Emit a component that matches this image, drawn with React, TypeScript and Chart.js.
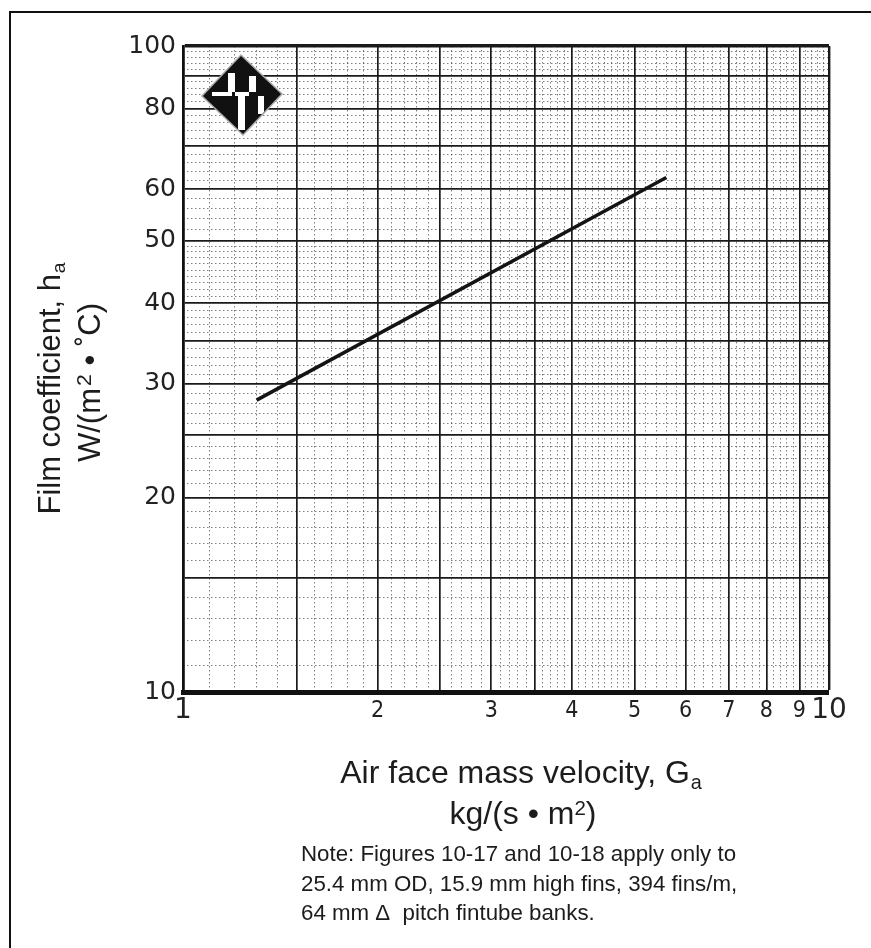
import React, { useEffect, useRef } from 'react';
import { Chart, registerables } from 'chart.js';

Chart.register(...registerables);

// Air face mass velocity Ga, kg/(s·m²)  vs  film coefficient ha, W/(m²·°C)
const gaValues = [1.3, 5.6];
const haValues = [28.3, 62.6];

const xTickLabels = [1, 2, 3, 4, 5, 6, 7, 8, 9, 10];
const xMajorGrid = [1, 1.5, 2, 2.5, 3, 3.5, 4, 5, 6, 7, 8, 9, 10];
const xMinorGrid = [
  1.1, 1.2, 1.3, 1.4, 1.6, 1.7, 1.8, 1.9,
  2.1, 2.2, 2.3, 2.4, 2.6, 2.7, 2.8, 2.9,
  3.1, 3.2, 3.3, 3.4, 3.6, 3.7, 3.8, 3.9,
  4.1, 4.2, 4.3, 4.4, 4.5, 4.6, 4.7, 4.8, 4.9,
  5.2, 5.4, 5.6, 5.8, 6.2, 6.4, 6.6, 6.8,
  7.2, 7.4, 7.6, 7.8, 8.2, 8.4, 8.6, 8.8,
  9.2, 9.4, 9.6, 9.8,
];

const yTickLabels = [10, 20, 30, 40, 50, 60, 80, 100];
const yMajorGrid = [10, 15, 20, 25, 30, 35, 40, 50, 60, 70, 80, 90, 100];
const yMinorGrid = [
  11, 12, 13, 14, 16, 17, 18, 19,
  21, 22, 23, 24, 26, 27, 28, 29,
  31, 32, 33, 34, 36, 37, 38, 39,
  41, 42, 43, 44, 45, 46, 47, 48, 49,
  52, 54, 56, 58, 62, 64, 66, 68,
  72, 74, 76, 78, 82, 84, 86, 88,
  92, 94, 96, 98,
];

const INK = '#1a1a1a';

const logoPlugin = {
  id: 'logo',
  afterDraw(chart: any) {
    const { ctx, chartArea: a } = chart;
    const cx = a.left + 59;
    const cy = a.top + 49;
    const r = 39;
    ctx.save();
    const diamond = () => {
      ctx.beginPath();
      ctx.moveTo(cx - 1, cy - r);
      ctx.lineTo(cx + r, cy - 1);
      ctx.lineTo(cx + 1, cy + r);
      ctx.lineTo(cx - r, cy + 1);
      ctx.closePath();
    };
    diamond();
    ctx.strokeStyle = '#aaa';
    ctx.lineWidth = 3;
    ctx.stroke();
    ctx.fillStyle = '#111';
    ctx.fill();
    diamond();
    ctx.clip();
    ctx.fillStyle = '#fff';
    // white strokes of the emblem
    ctx.fillRect(cx - 14, cy - 22, 7, 19);
    ctx.fillRect(cx + 7, cy - 19, 7, 16);
    ctx.fillRect(cx - 30, cy - 3, 20, 4);
    ctx.fillRect(cx - 7, cy - 3, 14, 4);
    ctx.fillRect(cx - 4, cy + 1, 7, 34);
    ctx.fillRect(cx + 16, cy + 1, 6, 18);
    ctx.restore();
  },
};

const xTickFont = (c: any) => {
  const v = c.tick ? c.tick.value : 0;
  if (v === 1 || v === 10) {
    return { family: '"DejaVu Sans", sans-serif', size: 28, lineHeight: '26px' };
  }
  return { family: '"Liberation Sans Narrow", "DejaVu Sans Condensed", sans-serif', size: 23, lineHeight: '26px' };
};

export default function App() {
  const ref = useRef<HTMLCanvasElement | null>(null);

  useEffect(() => {
    if (!ref.current) return;
    const chart = new Chart(ref.current, {
      type: 'scatter',
      data: {
        datasets: [
          {
            label: 'ha',
            data: gaValues.map((x, i) => ({ x, y: haValues[i] })),
            showLine: true,
            borderColor: '#141414',
            borderWidth: 3.5,
            pointRadius: 0,
            fill: false,
            xAxisID: 'x',
            yAxisID: 'y',
          },
        ],
      },
      plugins: [logoPlugin],
      options: {
        responsive: false,
        animation: false,
        events: [],
        layout: { padding: { left: 0, right: 42, top: 46, bottom: 196 } },
        plugins: {
          legend: { display: false },
          tooltip: { enabled: false },
        },
        scales: {
          xMinor: {
            type: 'logarithmic',
            position: 'bottom',
            min: 1,
            max: 10,
            z: -1,
            afterBuildTicks: (s: any) => {
              s.ticks = xMinorGrid.map((v) => ({ value: v }));
            },
            afterFit: (s: any) => {
              s.height = 0;
            },
            ticks: { display: false },
            grid: { drawTicks: false, color: 'rgba(0,0,0,0.5)', lineWidth: 1 },
            border: { display: false, dash: [1.5, 2.5] },
          },
          yMinor: {
            type: 'logarithmic',
            position: 'left',
            min: 10,
            max: 100,
            z: -1,
            afterBuildTicks: (s: any) => {
              s.ticks = yMinorGrid.map((v) => ({ value: v }));
            },
            afterFit: (s: any) => {
              s.width = 0;
            },
            ticks: { display: false },
            grid: { drawTicks: false, color: 'rgba(0,0,0,0.5)', lineWidth: 1 },
            border: { display: false, dash: [1.5, 2.5] },
          },
          x: {
            type: 'logarithmic',
            position: 'bottom',
            min: 1,
            max: 10,
            afterBuildTicks: (s: any) => {
              s.ticks = xMajorGrid.map((v) => ({ value: v }));
            },
            afterFit: (s: any) => {
              s.height = 60;
            },
            ticks: {
              autoSkip: false,
              maxRotation: 0,
              padding: 6,
              color: '#222',
              font: xTickFont as any,
              callback: (v: any) => (xTickLabels.includes(Number(v)) ? String(v) : ''),
            },
            grid: {
              drawTicks: false,
              color: INK,
              lineWidth: (c: any) => {
                const v = c.tick ? c.tick.value : 0;
                if (v === 1) return 0;
                if (v === 10) return 2.4;
                return 1.7;
              },
            },
            border: { display: true, color: '#111', width: 5 },
            title: { display: false },
          },
          y: {
            type: 'logarithmic',
            position: 'left',
            min: 10,
            max: 100,
            afterBuildTicks: (s: any) => {
              s.ticks = yMajorGrid.map((v) => ({ value: v }));
            },
            afterFit: (s: any) => {
              s.width = 183;
            },
            ticks: {
              autoSkip: false,
              padding: 7,
              color: '#222',
              font: { family: '"DejaVu Sans", sans-serif', size: 25 },
              callback: (v: any) => (yTickLabels.includes(Number(v)) ? String(v) : ''),
            },
            grid: {
              drawTicks: false,
              color: INK,
              lineWidth: (c: any) => {
                const v = c.tick ? c.tick.value : 0;
                if (v === 10) return 0;
                if (v === 100) return 3.4;
                return 1.7;
              },
            },
            border: { display: true, color: '#111', width: 2.8 },
            title: { display: false },
          },
        },
      } as any,
    });
    return () => chart.destroy();
  }, []);

  const sans = '"Liberation Sans", Arial, Helvetica, sans-serif';
  const line = (extra: any) => ({
    position: 'absolute' as const,
    whiteSpace: 'nowrap' as const,
    fontFamily: sans,
    color: '#1c1c1c',
    ...extra,
  });
  const sub = { fontSize: '0.62em', position: 'relative' as const, top: '0.28em', marginLeft: '0.04em' };
  const sup = { fontSize: '0.68em', position: 'relative' as const, top: '-0.42em', marginLeft: '0.1em' };
  const supTight = { fontSize: '0.64em', position: 'relative' as const, top: '-0.44em' };

  return (
    <div
      style={{
        position: 'absolute',
        left: 0,
        top: 0,
        width: 871,
        height: 948,
        overflow: 'hidden',
        background: '#fff',
      }}
    >
      <div
        style={{
          position: 'absolute',
          left: 9,
          top: 11,
          right: -20,
          bottom: -20,
          borderLeft: '2px solid #111',
          borderTop: '2px solid #111',
        }}
      />
      <canvas
        ref={ref}
        width={871}
        height={948}
        style={{ position: 'absolute', left: 0, top: 0, width: 871, height: 948 }}
      />
      {/* y-axis title */}
      <div
        style={line({
          left: 49.4 - 200,
          top: 388 - 15.5,
          width: 400,
          height: 31,
          fontSize: 31,
          lineHeight: '31px',
          textAlign: 'center',
          transform: 'rotate(-90deg)',
        })}
      >
        Film coefficient, h<span style={sub}>a</span>
      </div>
      <div
        style={line({
          left: 89.4 - 200,
          top: 382 - 15.5,
          width: 400,
          height: 31,
          fontSize: 31,
          lineHeight: '31px',
          textAlign: 'center',
          transform: 'rotate(-90deg)',
        })}
      >
        W/(m<span style={sup}>2</span> • ˚C)
      </div>
      {/* x-axis title */}
      <div
        style={line({
          left: 521 - 350,
          top: 756,
          width: 700,
          fontSize: 32,
          lineHeight: '32px',
          textAlign: 'center',
        })}
      >
        Air face mass velocity, G<span style={sub}>a</span>
      </div>
      <div
        style={line({
          left: 523 - 350,
          top: 797,
          width: 700,
          fontSize: 32,
          lineHeight: '32px',
          textAlign: 'center',
        })}
      >
        kg/(s • m<span style={supTight}>2</span>)
      </div>
      {/* note */}
      <div style={line({ left: 301, top: 843, fontSize: 22.3, lineHeight: '22px' })}>
        Note: Figures 10-17 and 10-18 apply only to
      </div>
      <div style={line({ left: 301, top: 872.5, fontSize: 22.3, lineHeight: '22px' })}>
        25.4 mm OD, 15.9 mm high fins, 394 fins/m,
      </div>
      <div style={line({ left: 301, top: 902, fontSize: 22.3, lineHeight: '22px' })}>
        64 mm Δ&nbsp; pitch fintube banks.
      </div>
    </div>
  );
}
